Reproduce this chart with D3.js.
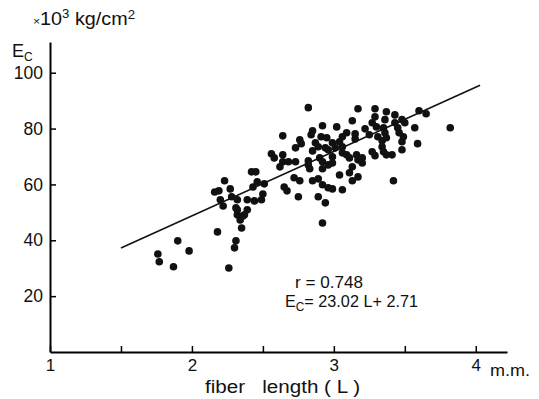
<!DOCTYPE html>
<html lang="en">
<head>
    <meta charset="UTF-8">
    <title>Ec vs fiber length</title>
    <script src="https://d3js.org/d3.v7.min.js"></script>
    <style>
        body { margin: 0; background: #fff; }
        text { font-family: "Liberation Sans", Arial, sans-serif; fill: #111; }
    </style>
</head>
<body>
<div id="container"></div>
<script>
    // Data
    const fiberLength = [
        1.76,1.77,1.90,1.98,1.87,2.26,2.18,2.23,2.16,2.19,
        2.27,2.28,2.20,2.22,2.31,2.32,2.31,2.30,2.35,2.34,
        2.36,2.32,2.39,2.37,2.32,2.39,2.44,2.49,2.50,2.51,
        2.46,2.43,2.42,2.45,
        2.56,2.58,2.64,2.64,2.64,2.68,2.73,2.62,2.73,2.76,
        2.77,2.72,2.76,2.65,2.67,2.75,2.82,2.85,2.84,2.87,
        2.89,2.85,2.82,2.82,2.83,2.85,2.89,2.89,2.92,2.94,
        2.92,2.90,2.92,2.92,2.92,2.91,2.95,2.94,2.96,2.99,
        3.01,2.99,2.99,2.96,3.02,3.04,3.06,3.06,3.09,3.13,
        3.15,3.06,3.09,3.11,3.16,3.17,3.20,3.20,3.13,3.04,
        3.11,3.13,3.17,2.96,2.99,3.06,
        3.17,3.29,3.29,3.37,3.43,3.48,3.50,3.22,3.30,3.36,
        3.27,3.35,3.36,3.31,3.34,3.37,3.45,3.46,3.49,3.48,
        3.27,3.29,3.34,3.35,3.37,3.41,3.48,3.42,3.60,3.65,
        3.57,3.82,3.59,3.25,3.15,3.43
    ];
    const modulus = [
        35.1,32.3,39.8,36.2,30.5,30.1,43.0,61.3,57.3,57.7,
        58.4,55.6,54.5,52.3,51.6,49.1,39.8,37.3,44.4,47.3,
        48.7,50.9,50.9,49.1,54.5,54.5,54.1,54.5,56.6,60.2,
        60.9,59.1,64.5,64.5,
        71.0,69.5,77.4,70.6,68.1,68.1,68.1,66.3,73.1,76.0,
        74.6,62.4,61.3,59.1,57.7,55.6,87.5,79.2,77.8,74.9,
        73.5,72.0,68.5,67.0,65.6,61.3,62.0,55.6,59.9,53.4,
        46.2,69.5,68.1,65.6,81.0,77.1,76.7,73.1,72.4,74.9,
        73.1,69.9,67.7,67.0,80.6,75.3,73.5,71.3,78.5,82.8,
        78.1,77.1,70.6,69.5,70.6,68.8,69.5,67.7,66.3,63.4,
        64.2,61.3,62.7,58.8,58.4,58.1,
        87.1,87.1,84.2,86.0,84.9,83.2,82.1,79.9,80.6,83.2,
        82.1,80.3,78.5,77.1,75.6,76.7,80.3,78.5,77.1,75.3,
        71.7,70.3,73.5,71.7,70.6,70.6,72.4,61.3,86.4,85.3,
        80.3,80.3,74.6,77.8,76.3,82.1
    ];
    // Regression Ec = 23.02 L + 2.71, drawn between these lengths
    const slope = 23.02;
    const intercept = 2.71;
    const fitRange = [1.5, 4.03];
    const xTicks = [1, 1.5, 2, 2.5, 3, 3.5, 4];
    const yTicks = [20, 40, 60, 80, 100];

    const width = 539;
    const height = 399;

    const svg = d3.select("#container")
                  .append("svg")
                  .attr("width", width)
                  .attr("height", height);

    // Scales
    const x = d3.scaleLinear().domain([1, 4.22]).range([50, 507]);
    const y = d3.scaleLinear().domain([0, 111]).range([352, 42]);

    // X axis, ticks pointing up
    svg.append("g")
       .attr("transform", `translate(0, ${y(0)})`)
       .call(d3.axisBottom(x)
               .tickValues(xTicks)
               .tickSizeInner(-6)
               .tickSizeOuter(0)
               .tickPadding(7)
               .tickFormat(d => Number.isInteger(d) ? d : ""))
       .call(g => g.select(".domain").attr("stroke-width", 2))
       .call(g => g.selectAll(".tick line").attr("stroke-width", 1.5))
       .call(g => g.selectAll(".tick text").attr("font-size", 17)
                   .attr("font-family", "Liberation Sans, Arial, sans-serif"));

    // Y axis, ticks pointing right
    svg.append("g")
       .attr("transform", `translate(${x(1)}, 0)`)
       .call(d3.axisLeft(y)
               .tickValues(yTicks)
               .tickSizeInner(-6)
               .tickSizeOuter(0)
               .tickPadding(7))
       .call(g => g.select(".domain").attr("stroke-width", 2))
       .call(g => g.selectAll(".tick line").attr("stroke-width", 1.5))
       .call(g => g.selectAll(".tick text").attr("font-size", 17.5)
                   .attr("font-family", "Liberation Sans, Arial, sans-serif"));

    // Regression line
    svg.append("line")
       .attr("x1", x(fitRange[0]))
       .attr("y1", y(slope * fitRange[0] + intercept))
       .attr("x2", x(fitRange[1]))
       .attr("y2", y(slope * fitRange[1] + intercept))
       .attr("stroke", "#111")
       .attr("stroke-width", 1.6);

    // Points
    svg.append("g")
       .selectAll("circle")
       .data(d3.zip(fiberLength, modulus))
       .join("circle")
       .attr("cx", d => x(d[0]))
       .attr("cy", d => y(d[1]))
       .attr("r", 3.8)
       .attr("fill", "#111");

    // Unit label
    const unit = svg.append("text")
                    .attr("x", 33)
                    .attr("y", 25)
                    .attr("font-size", 18)
                    .attr("textLength", 102)
                    .attr("lengthAdjust", "spacingAndGlyphs");
    unit.append("tspan").attr("font-size", 11).text("×");
    unit.append("tspan").text("10");
    unit.append("tspan").attr("font-size", 12).attr("dy", -7).text("3");
    unit.append("tspan").attr("dy", 7).text(" kg/cm");
    unit.append("tspan").attr("font-size", 12).attr("dy", -6).text("2");

    // Ec label
    const ec = svg.append("text")
                  .attr("x", 12)
                  .attr("y", 57)
                  .attr("font-size", 18);
    ec.append("tspan").text("E");
    ec.append("tspan").attr("font-size", 12).attr("dy", 4).text("C");

    // m.m. and axis title
    svg.append("text")
       .attr("x", 490)
       .attr("y", 376)
       .attr("font-size", 16)
       .attr("textLength", 40)
       .attr("lengthAdjust", "spacingAndGlyphs")
       .text("m.m.");

    svg.append("text")
       .attr("x", 205)
       .attr("y", 393)
       .attr("font-size", 17.5)
       .attr("textLength", 155)
       .attr("lengthAdjust", "spacingAndGlyphs")
       .attr("xml:space", "preserve")
       .text("fiber   length ( L )");

    // Correlation and equation
    svg.append("text")
       .attr("x", 295)
       .attr("y", 288)
       .attr("font-size", 16.5)
       .attr("textLength", 68)
       .attr("lengthAdjust", "spacingAndGlyphs")
       .text("r = 0.748");

    const eq = svg.append("text")
                  .attr("x", 285)
                  .attr("y", 307)
                  .attr("font-size", 16.5)
                  .attr("textLength", 133)
                  .attr("lengthAdjust", "spacingAndGlyphs");
    eq.append("tspan").text("E");
    eq.append("tspan").attr("font-size", 12).attr("dy", 4).text("C");
    eq.append("tspan").attr("dy", -4).text("= 23.02 L+ 2.71");
</script>
</body>
</html>
